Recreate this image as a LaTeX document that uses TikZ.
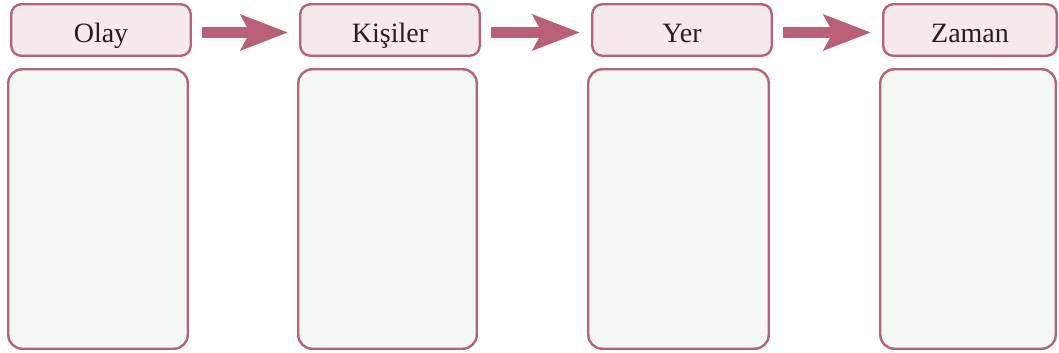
\documentclass[tikz,border=0pt]{standalone}
\usepackage{fontspec}
\setmainfont{Liberation Serif}
\usetikzlibrary{arrows.meta}
\definecolor{rim}{HTML}{B8627A}
\definecolor{arrowc}{HTML}{BA6076}
\definecolor{headfill}{HTML}{F5E9EC}
\definecolor{bodyfill}{HTML}{F4F8F3}
\definecolor{ink}{HTML}{231F20}
\begin{document}
\begin{tikzpicture}[x=1pt,y=-1pt,
  headbox/.style={draw=rim, fill=headfill, line width=2.4pt, rounded corners=10pt,
    minimum height=51.5pt, inner sep=0pt, text=ink, text height=24pt, text depth=0pt,
    font=\fontsize{28}{30}\selectfont},
  bodybox/.style={draw=rim, fill=bodyfill, line width=2.4pt, rounded corners=14pt,
    minimum height=279.5pt, inner sep=0pt},
  flowarrow/.style={draw=arrowc, line width=11pt,
    -{Stealth[length=47pt,width=35pt,inset=9pt]}}]
\useasboundingbox (0,0) rectangle (1059,353);
\node[headbox, minimum width=179.5pt] (h1) at (101,30) {Olay};
\node[headbox, minimum width=179.5pt] (h2) at (390,30) {Kişiler};
\node[headbox, minimum width=179.5pt] (h3) at (682,30) {Yer};
\node[headbox, minimum width=173.5pt] (h4) at (970,30) {Zaman};
\node[bodybox, minimum width=179.5pt] (b1) at (98,209) {};
\node[bodybox, minimum width=178.5pt] (b2) at (387.5,209) {};
\node[bodybox, minimum width=180.5pt] (b3) at (678.5,209) {};
\node[bodybox, minimum width=175.5pt] (b4) at (968,209) {};
\draw[flowarrow] ([xshift=10pt,yshift=-2.5pt]h1.east) -- ([xshift=-11pt,yshift=-2.5pt]h2.west);
\draw[flowarrow] ([xshift=10pt,yshift=-2.5pt]h2.east) -- ([xshift=-11pt,yshift=-2.5pt]h3.west);
\draw[flowarrow] ([xshift=10pt,yshift=-2.5pt]h3.east) -- ([xshift=-11pt,yshift=-2.5pt]h4.west);
\end{tikzpicture}
\end{document}
